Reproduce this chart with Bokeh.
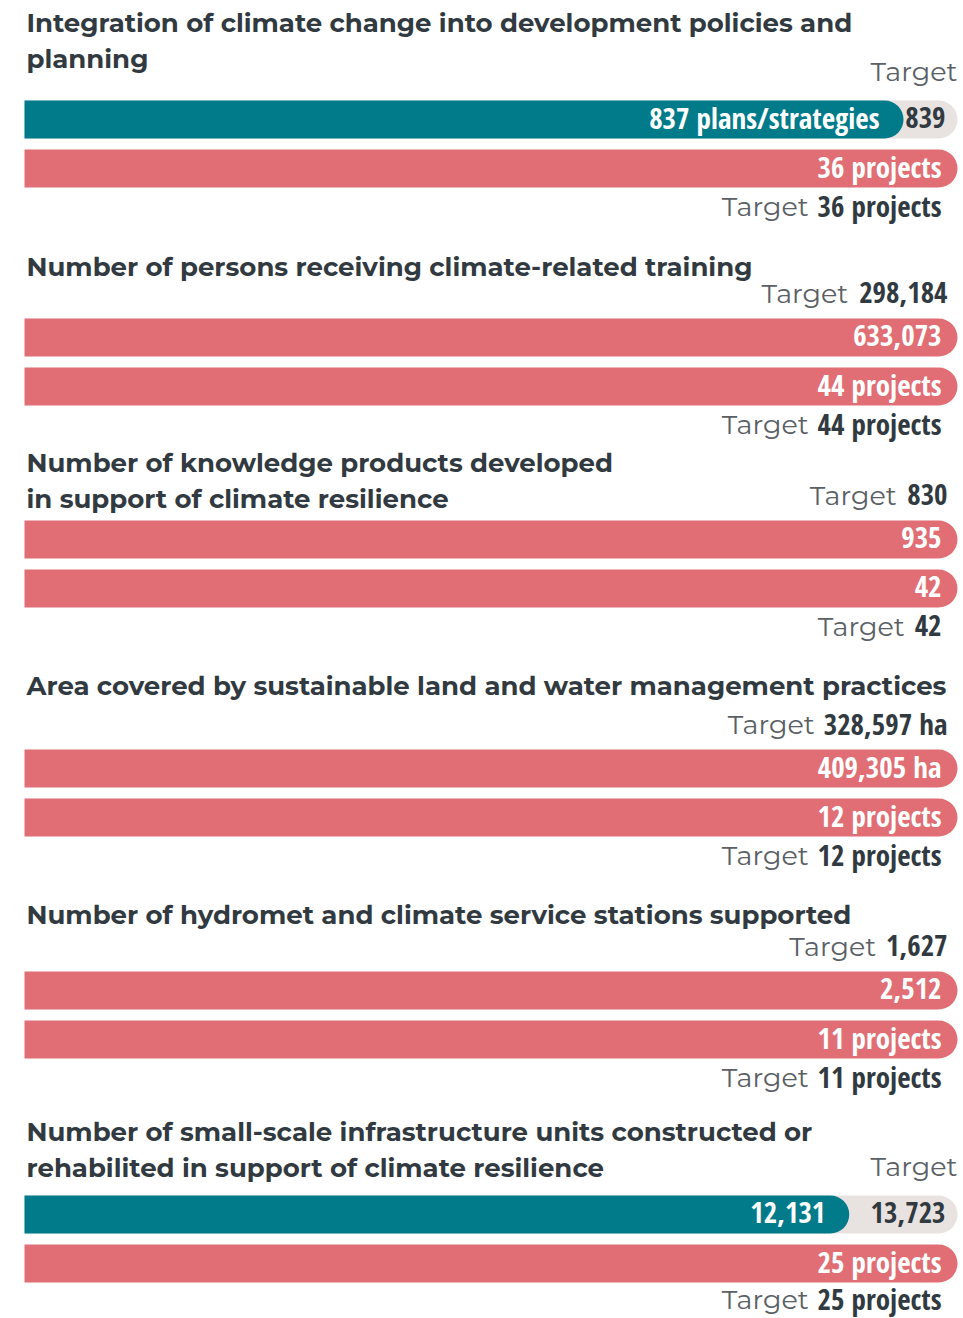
from bokeh.plotting import figure
from bokeh.models import Range1d
from bokeh.core.properties import value
from bokeh.embed import file_html
from bokeh.resources import INLINE

# ---------------- data ----------------
titles = [
    "Integration of climate change into development policies and\nplanning",
    "Number of persons receiving climate-related training",
    "Number of knowledge products developed\nin support of climate resilience",
    "Area covered by sustainable land and water management practices",
    "Number of hydromet and climate service stations supported",
    "Number of small-scale infrastructure units constructed or\nrehabilited in support of climate resilience",
]
achieved = [837, 633073, 935, 409305, 2512, 12131]
targets = [839, 298184, 830, 328597, 1627, 13723]
value_units = [" plans/strategies", "", "", " ha", "", ""]
projects_achieved = [36, 44, 42, 12, 11, 25]
projects_target = [36, 44, 42, 12, 11, 25]
project_units = [" projects", " projects", "", " projects", " projects", " projects"]

# ---------------- layout (pixels of the 963x1318 picture) ----------------
title_y = [22, 266, 462, 685, 914, 1131]
bar_y = [119, 337, 539, 768, 990, 1214]
BAR_L, BAR_R = 24, 957
SPAN = BAR_R - BAR_L
BAR_H = 38
RADIUS = 19
LINE_H = 36
GAP = 49

TEAL = "#017a8a"
RED = "#e06e74"
GREY = "#e8e3e0"
DARK = "#323a41"
MID = "#5a6065"

TITLE_FONT = value("Montserrat")
NUM_FONT = value("Open Sans Condensed")
LIGHT_FONT = value("Montserrat")
NUM_SIZE = 29
NUM_PX = f"{NUM_SIZE}px"
NUM_DY = -2

# rough advance widths (em) of the condensed bold face
CW = {",": 0.23, ".": 0.23, " ": 0.19, "p": 0.5, "r": 0.35, "o": 0.49, "j": 0.24,
      "e": 0.45, "c": 0.39, "t": 0.31, "s": 0.39, "h": 0.5, "a": 0.47}

p = figure(width=963, height=1318, output_backend="svg", toolbar_location=None,
           x_range=Range1d(-BAR_L / SPAN, (963 - BAR_L) / SPAN),
           y_range=Range1d(1318, 0), min_border=0,
           x_axis_location=None, y_axis_location=None)
p.grid.visible = False
p.outline_line_color = None
p.background_fill_color = "white"
p.border_fill_color = "white"


def fmt(v):
    return f"{v:,}"


def num_width(s):
    return sum(CW.get(ch, 0.48) for ch in s) * NUM_SIZE


def num_text(x, y, s, color, xoff):
    p.text(x=[x], y=[y], text=[s], text_font=NUM_FONT, text_font_style="bold",
           text_font_size=NUM_PX, text_color=color, text_align="right",
           text_baseline="middle", x_offset=xoff, y_offset=NUM_DY)


def light_text(x, y, s, xoff):
    p.text(x=[x], y=[y], text=[s], text_font=LIGHT_FONT,
           text_font_size="27px", text_color=MID, text_align="right",
           text_baseline="middle", x_offset=xoff, y_offset=-1)


def target_text(x, y, num, xoff):
    # light "Target" followed by the bold condensed number, right aligned
    num_text(x, y, num, DARK, xoff)
    light_text(x, y, "Target", xoff - num_width(num) - 9)


for i in range(len(titles)):
    for j, line in enumerate(titles[i].split("\n")):
        p.text(x=[0], y=[title_y[i] + j * LINE_H], text=[line], text_font=TITLE_FONT,
               text_font_style="bold", text_font_size="26px", text_color=DARK,
               text_align="left", text_baseline="middle", x_offset=2)

    y1 = bar_y[i]
    y2 = y1 + GAP
    frac = achieved[i] / targets[i]
    if frac < 1:
        # progress bar against the target, leaving room for the target label
        shown = min(frac, 1 - 54 / SPAN)
        p.hbar(y=[y1], left=[0], right=[1], height=BAR_H, fill_color=GREY,
               line_color=None, border_radius=(0, RADIUS, RADIUS, 0))
        p.hbar(y=[y1], left=[0], right=[shown], height=BAR_H, fill_color=TEAL,
               line_color=None, border_radius=(0, RADIUS, RADIUS, 0))
        num_text(shown, y1, fmt(achieved[i]) + value_units[i], "white", -24)
        num_text(1, y1, fmt(targets[i]), DARK, -12)
        light_text(1, y1 - 47, "Target", 0)
    else:
        shown = min(frac, 1)
        p.hbar(y=[y1], left=[0], right=[shown], height=BAR_H, fill_color=RED,
               line_color=None, border_radius=(0, RADIUS, RADIUS, 0))
        num_text(shown, y1, fmt(achieved[i]) + value_units[i], "white", -16)
        target_text(1, y1 - 43, fmt(targets[i]) + value_units[i], -10)

    pf = min(projects_achieved[i] / projects_target[i], 1)
    p.hbar(y=[y2], left=[0], right=[pf], height=BAR_H, fill_color=RED,
           line_color=None, border_radius=(0, RADIUS, RADIUS, 0))
    num_text(pf, y2, str(projects_achieved[i]) + project_units[i], "white", -16)
    # keep the last label inside the page
    ty = min(y2 + 39, 1318 - 18)
    target_text(1, ty, str(projects_target[i]) + project_units[i], -16)

open("out.html", "w").write(file_html(p, INLINE))
